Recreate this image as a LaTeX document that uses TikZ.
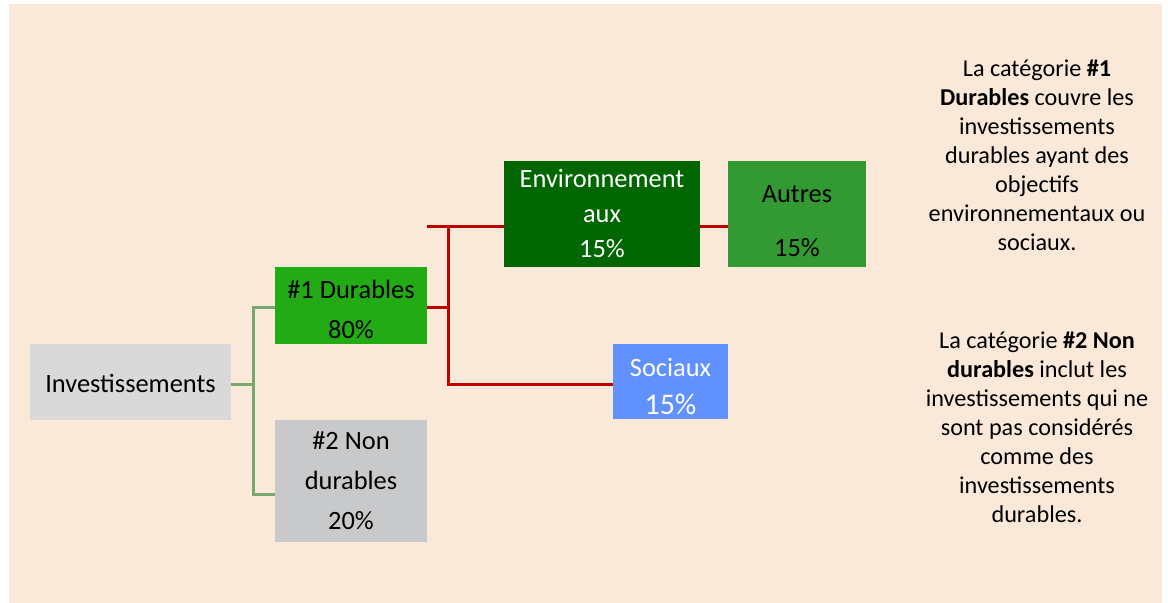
\documentclass[tikz,border=0pt]{standalone}
\usepackage{fontspec}
\setmainfont{Carlito}
\usepackage{tikz}
\usetikzlibrary{calc, positioning}
\definecolor{bgbeige}{HTML}{FAE8D8}
\definecolor{invgray}{HTML}{D9D9D9}
\definecolor{nongray}{HTML}{C8C9CB}
\definecolor{durgreen}{HTML}{22AB14}
\definecolor{envgreen}{HTML}{006600}
\definecolor{autgreen}{HTML}{339933}
\definecolor{socblue}{HTML}{6191FF}
\definecolor{linered}{HTML}{C00000}
\definecolor{linegreen}{HTML}{77A96E}

\begin{document}
\begin{tikzpicture}[x=0.5pt, y=-0.5pt,
	every node/.style={font=\fontsize{13.2}{20}\selectfont},
	catbox/.style={inner sep=0pt, align=center},
	rline/.style={linered, line width=1.5pt},
	gline/.style={linegreen, line width=1.5pt},
	note/.style={align=center, font=\fontsize{12.1}{14.5}\selectfont}]
		\useasboundingbox (0,0) rectangle (1168,603);
		\fill[bgbeige] (9,4) rectangle (1162,603);
		% boxes
		\node[catbox, fill=invgray, minimum width=100.5pt, minimum height=38pt] (inv) at (130.5,382) {\rule{0pt}{11pt}Investissements};
		\node[catbox, fill=durgreen, minimum width=76pt, minimum height=38.5pt] (dur) at (351,305.5) {\rule{0pt}{13.2pt}\#1 Durables\\ 80\%};
		\node[catbox, fill=nongray, minimum width=76pt, minimum height=61pt] (nondur) at (351,481) {\#2 Non\\ durables\\ 20\%};
		\node[catbox, fill=envgreen, text=white, minimum width=98pt, minimum height=53pt, font=\fontsize{13.2}{17.5}\selectfont] (env) at (602,214) {Environnement\\ aux\\ 15\%};
		\node[catbox, fill=autgreen, minimum width=69pt, minimum height=53pt] (autres) at (797,214) {\rule{0pt}{16pt}Autres\\[7pt] 15\%};
		\node[catbox, fill=socblue, text=white, minimum width=57.5pt, minimum height=37.5pt, font=\fontsize{13.2}{19}\selectfont] (soc) at (670.5,381.5) {\rule{0pt}{14pt}Sociaux\\ {\fontsize{15}{18}\selectfont 15\%}};
		% notes
		\node[note] (note1) at (1037,155) {La catégorie \textbf{\#1}\\ \textbf{Durables} couvre les\\ investissements\\ durables ayant des\\ objectifs\\ environnementaux ou\\ sociaux.};
		\node[note] (note2) at (1037,427) {La catégorie \textbf{\#2 Non}\\ \textbf{durables} inclut les\\ investissements qui ne\\ sont pas considérés\\ comme des\\ investissements\\ durables.};
		% green tree
		\coordinate (gtrunk) at (253,0);
		\coordinate (ileft) at ($(inv.east)+(0,3)$);
		\coordinate (gtop) at ($(dur.west)+(0,2.5)$);
		\coordinate (gbot) at ($(nondur.west)+(0,14)$);
		\draw[gline] (ileft) -- (ileft -| gtrunk);
		\draw[gline] (gtop) -- (gtop -| gtrunk) -- (gbot -| gtrunk) -- (gbot);
		% red tree
		\coordinate (rtrunk) at (448,0);
		\coordinate (dright) at ($(dur.east)+(0,2.5)$);
		\coordinate (etop) at ($(env.west)+(0,13)$);
		\coordinate (eright) at ($(env.east)+(0,13)$);
		\coordinate (sbot) at ($(soc.west)+(0,3.5)$);
		\draw[rline] (dright) -- (dright -| rtrunk);
		\draw[rline] (etop -| dur.east) -- (etop);
		\draw[rline] (etop -| rtrunk) -- (sbot -| rtrunk) -- (sbot);
		\draw[rline] (eright) -- (eright -| autres.west);
\end{tikzpicture}
\end{document}
